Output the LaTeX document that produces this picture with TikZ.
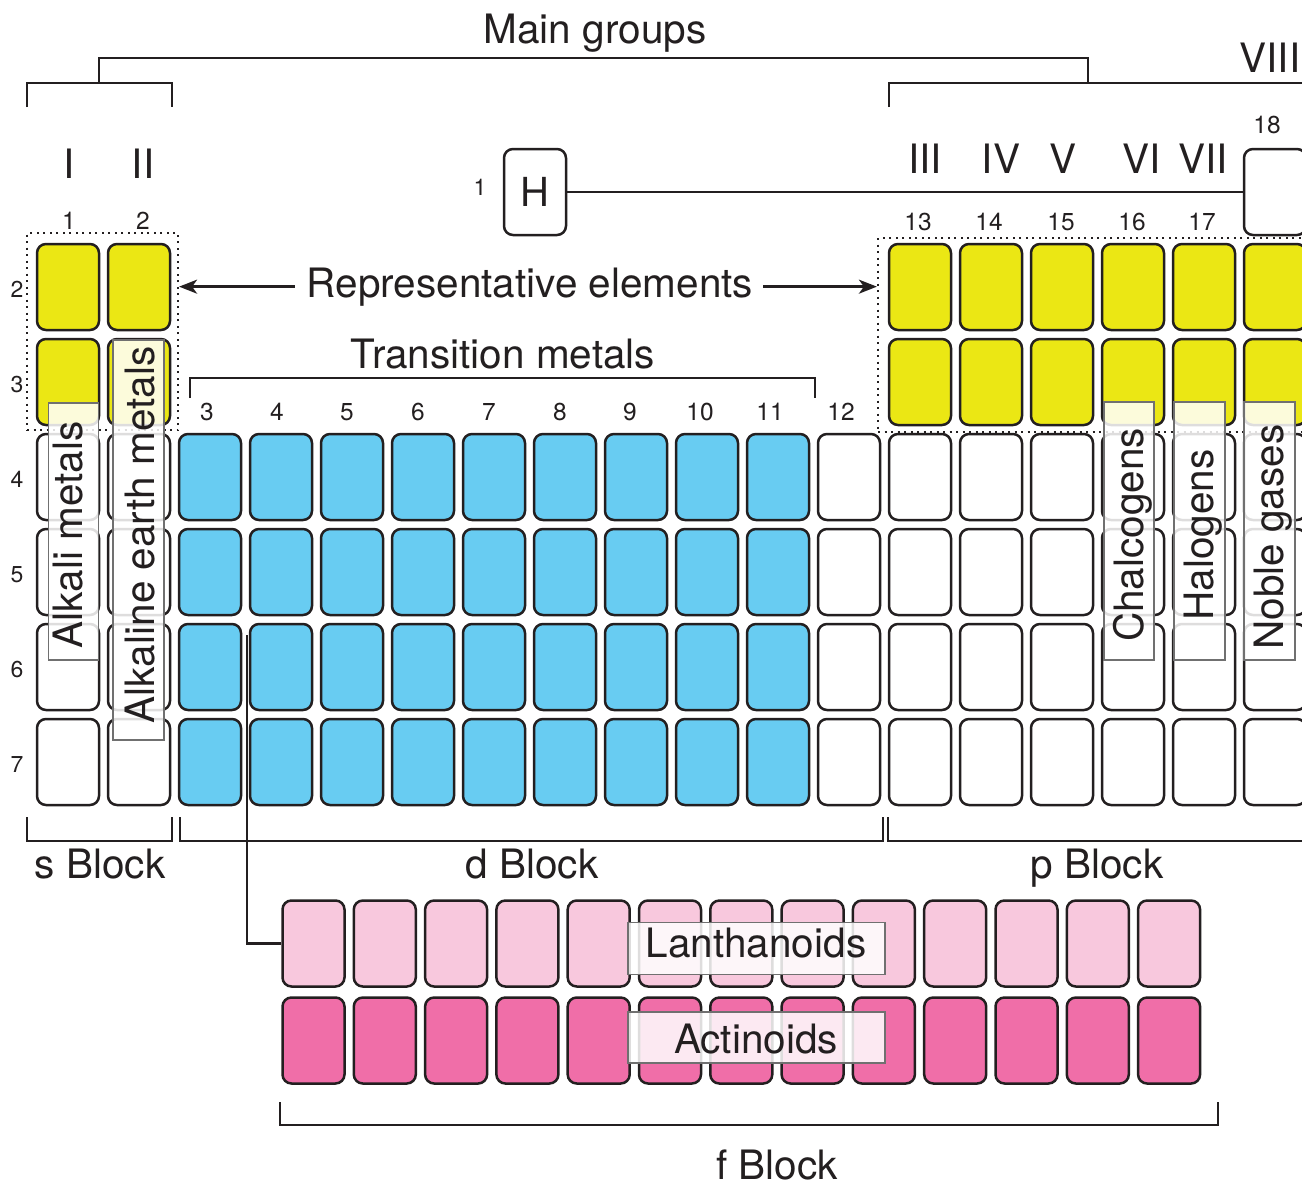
\documentclass[tikz,border=0pt]{standalone}
\usepackage{fontspec}
\setmainfont{TeX Gyre Heros}
\usetikzlibrary{arrows.meta}
\definecolor{ink}{HTML}{231F20}
\definecolor{yel}{HTML}{EBE714}
\definecolor{blu}{HTML}{68CCF2}
\definecolor{lpink}{HTML}{F8C8DD}
\definecolor{dpink}{HTML}{F06EA8}
\definecolor{lblgray}{HTML}{707070}
\begin{document}
\begin{tikzpicture}[x=1pt,y=-1pt,
  cellbox/.style={draw=ink, line width=2.5pt, rounded corners=9pt, minimum width=62pt, minimum height=86pt, inner sep=0pt, font=\fontsize{40}{44}\selectfont, text=ink},
  big/.style={font=\fontsize{40.5}{44}\selectfont, text=ink, inner sep=0pt, anchor=base},
  num/.style={font=\fontsize{24.5}{27}\selectfont, text=ink, inner sep=0pt, anchor=base},
  pnum/.style={font=\fontsize{23}{26}\selectfont, text=ink, inner sep=0pt, anchor=base},
  brk/.style={draw=ink, line width=2.4pt},
  arr/.style={-{Stealth[length=18pt,width=14pt,inset=5pt]}},
  dotbox/.style={draw=ink, line width=2.2pt, dash pattern=on 2pt off 4.5pt, inner sep=0pt},
  lblbox/.style={draw=lblgray, line width=1.6pt, fill=white, fill opacity=0.85, inner sep=0pt},
  vtext/.style={font=\fontsize{40.5}{44}\selectfont, text=ink, inner sep=0pt, anchor=base, rotate=90}
]
\useasboundingbox (0,0) rectangle (1302,1187);

% ---- cells of the main table ----
\foreach \g in {1,2,13,14,15,16,17,18}{
  \foreach \r in {2,3}{
    \node[cellbox, fill=yel] (c\r-\g) at ({68+(\g-1)*71},{192+(\r-1)*95}) {};
  }
}
\foreach \g in {1,2,12,13,14,15,16,17,18}{
  \foreach \r in {4,5,6,7}{
    \node[cellbox, fill=white] (c\r-\g) at ({68+(\g-1)*71},{192+(\r-1)*95}) {};
  }
}
\foreach \g in {3,...,11}{
  \foreach \r in {4,5,6,7}{
    \node[cellbox, fill=blu] (c\r-\g) at ({68+(\g-1)*71},{192+(\r-1)*95}) {};
  }
}
\node[cellbox, fill=white] (c1-18) at (1275,192) {};
\node[cellbox, fill=white] (H) at (535,192) {H};

% ---- f block ----
\foreach \i in {1,...,13}{
  \node[cellbox, fill=lpink] (la\i) at ({313.5+(\i-1)*71.3},943.5) {};
  \node[cellbox, fill=dpink] (ac\i) at ({313.5+(\i-1)*71.3},1040.5) {};
}

% ---- connectors ----
\draw[brk] (H.east) -- (c1-18.west);
\coordinate (lanTop) at (247,635);
\draw[brk] (lanTop) |- (la1.west);

% ---- dotted groups ----
\node[dotbox, minimum width=151pt, minimum height=197pt] (sdot) at (102.5,331.5) {};
\node[dotbox, minimum width=462pt, minimum height=194pt] (pdot) at (1109,335) {};

% ---- top brackets ----
\draw[brk] (99,83) -- (99,58) -- (1088,58) -- (1088,83);
\draw[brk] (27,107) -- (27,83) -- (172,83) -- (172,107);
\draw[brk] (889,107) -- (889,83) -- (1320,83);
\draw[brk] (190,398) -- (190,378) -- (815,378) -- (815,398);

% ---- bottom brackets ----
\draw[brk] (27,817) -- (27,841) -- (172,841) -- (172,817);
\draw[brk] (180,817) -- (180,841) -- (883,841) -- (883,817);
\draw[brk] (888,817) -- (888,841) -- (1320,841);
\draw[brk] (280,1102) -- (280,1125) -- (1218,1125) -- (1218,1102);

% ---- titles ----
\node[big] (maing) at (595,43) {Main groups};
\node[big] (viii) at (1270,72) {VIII};
\node[big] (gI) at (69,178) {I};
\node[big] (gII) at (143,178) {II};
\node[big] (gIII) at (925,173) {III};
\node[big] (gIV) at (1001,173) {IV};
\node[big] (gV) at (1063,173) {V};
\node[big] (gVI) at (1142,173) {VI};
\node[big] (gVII) at (1203,173) {VII};

% ---- group numbers ----
\node[num] (n18) at (1267,133) {18};
\node[num] (n1) at (69,229) {1};
\node[num] (n2) at (143,229) {2};
\node[num] (n13) at (918,230) {13};
\node[num] (n14) at (989,230) {14};
\node[num] (n15) at (1061,230) {15};
\node[num] (n16) at (1132,230) {16};
\node[num] (n17) at (1202,230) {17};
\node[num] (n3) at (207,420) {3};
\node[num] (n4) at (277,420) {4};
\node[num] (n5) at (347,420) {5};
\node[num] (n6) at (418,420) {6};
\node[num] (n7) at (489,420) {7};
\node[num] (n8) at (560,420) {8};
\node[num] (n9) at (630,420) {9};
\node[num] (n10) at (700,420) {10};
\node[num] (n11) at (770,420) {11};
\node[num] (n12) at (841,420) {12};

% ---- period numbers ----
\node[pnum] (p1) at (480,195) {1};
\foreach \r in {2,...,7}{
  \node[pnum] (p\r) at (17,{202+(\r-1)*95}) {\r};
}

% ---- representative elements ----
\node[big] (rep) at (530,297) {Representative elements};
\draw[brk, arr] ([xshift=-12pt]rep.west) -- (sdot.east |- rep.west);
\draw[brk, arr] ([xshift=10pt]rep.east) -- (pdot.west |- rep.east);

\node[big] (trans) at (503,368) {Transition metals};

% ---- block labels ----
\node[big] (sblk) at (100,878) {s Block};
\node[big] (dblk) at (532,878) {d Block};
\node[big] (pblk) at (1097,878) {p Block};
\node[big] (fblk) at (777,1179) {f Block};

% ---- semi-transparent label boxes ----
\node[lblbox, minimum width=50pt, minimum height=257pt] (bAlk) at (73.5,531.5) {};
\node[vtext] (tAlk) at (82,535) {Alkali metals};
\node[lblbox, minimum width=51pt, minimum height=400pt] (bAle) at (138.5,540) {};
\node[vtext] (tAle) at (154,535) {Alkaline earth metals};
\node[lblbox, minimum width=50pt, minimum height=258pt] (bCha) at (1129,531) {};
\node[vtext] (tCha) at (1143,535) {Chalcogens};
\node[lblbox, minimum width=51pt, minimum height=258pt] (bHal) at (1199.5,531) {};
\node[vtext] (tHal) at (1213,535) {Halogens};
\node[lblbox, minimum width=51pt, minimum height=258pt] (bNob) at (1269.5,531) {};
\node[vtext] (tNob) at (1283,537) {Noble gases};

\node[lblbox, minimum width=257pt, minimum height=52pt] (bLan) at (756.5,948.5) {};
\node[big] (tLan) at (756,957) {Lanthanoids};
\node[lblbox, minimum width=257pt, minimum height=51pt] (bAct) at (756.5,1037.5) {};
\node[big] (tAct) at (756,1053) {Actinoids};
\end{tikzpicture}
\end{document}
